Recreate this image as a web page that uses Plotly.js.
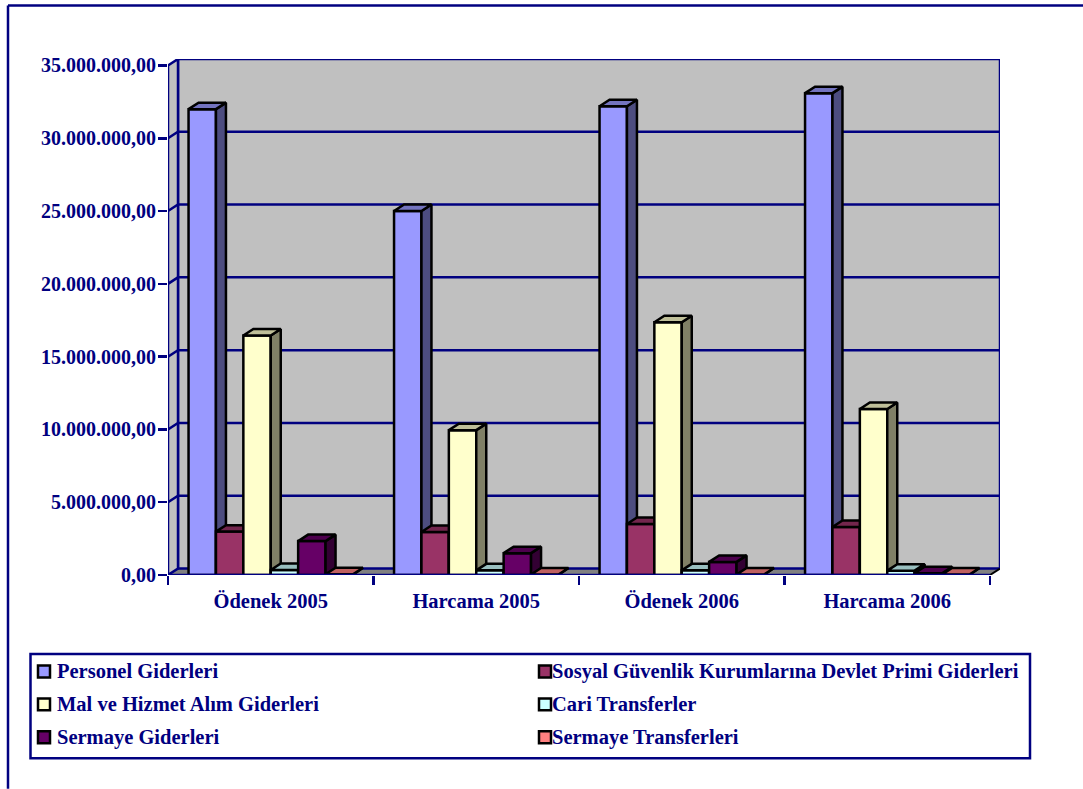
<!DOCTYPE html>
<html>
<head>
<meta charset="utf-8">
<script src="https://cdn.plot.ly/plotly-3.0.1.min.js"></script>
<style>html,body{margin:0;padding:0;background:#fff;overflow:hidden}</style>
</head>
<body>
<div id="chart" style="width:1083px;height:789px"></div>
<script>
const categories = ["Ödenek 2005", "Harcama 2005", "Ödenek 2006", "Harcama 2006"];
const seriesNames = ["Personel Giderleri", "Sosyal Güvenlik Kurumlarına Devlet Primi Giderleri", "Mal ve Hizmet Alım Giderleri", "Cari Transferler", "Sermaye Giderleri", "Sermaye Transferleri"];
const personel = [32000000, 25000000, 32200000, 33100000];
const sosyal = [2980000, 2950000, 3500000, 3300000];
const mal = [16450000, 9950000, 17360000, 11400000];
const cari = [340000, 320000, 320000, 300000];
const sermayeGid = [2330000, 1500000, 900000, 120000];
const sermayeTr = [50000, 30000, 30000, 30000];
const yTicks = [0, 5000000, 10000000, 15000000, 20000000, 25000000, 30000000, 35000000];
const yTickLabels = ["0,00", "5.000.000,00", "10.000.000,00", "15.000.000,00", "20.000.000,00", "25.000.000,00", "30.000.000,00", "35.000.000,00"];
const frontColors = ["#9999FF", "#993366", "#FFFFCC", "#CCFFFF", "#660066", "#FF8080"];
const topColors = ["#7373BF", "#73264D", "#BFBF99", "#99BFBF", "#4D004D", "#BF6060"];
const sideColors = ["#4D4D80", "#4D1A33", "#808066", "#668080", "#330033", "#804040"];

const allSeries = [personel, sosyal, mal, cari, sermayeGid, sermayeTr];
const NAVY = "#000080", FONT = "Liberation Serif";
// page geometry of the chart frame
const plotL = 168, plotR = 1000, plotT = 58.5, plotB = 575, frontR = 990, yMax = 35000000, yTopPx = 65, depthPx = 6.5;
const catPx = (frontR - plotL) / categories.length, valPx = (plotB - yTopPx) / yMax;
const dx = (plotR - frontR) / catPx, dy = depthPx / valPx;
const xRange = [-0.5, categories.length - 0.5 + dx];
const yRange = [0, (plotB - plotT) / valPx];
const barW = 0.8 / allSeries.length, startOff = -0.4;
const idx = categories.map((c, i) => i);
const px = x => (x - plotL) / (plotR - plotL), py = y => (plotB - y) / (plotB - plotT);

const poly = (xs, ys, fill, axis, lineColor, w) => ({
  type: "scatter", mode: "lines", x: xs, y: ys, xaxis: axis, yaxis: "y", fill: "toself", fillcolor: fill,
  line: {color: lineColor, width: w}, hoverinfo: "skip", showlegend: false, cliponaxis: false
});
const lineT = (xs, ys, axis, color, w) => ({
  type: "scatter", mode: "lines", x: xs, y: ys, xaxis: axis, yaxis: "y",
  line: {color: color, width: w}, hoverinfo: "skip", showlegend: false, cliponaxis: false
});

const x0 = -0.5, x1 = categories.length - 0.5;
const traces = [];
// main subplot: carries the category axis
traces.push({type: "scatter", mode: "markers", x: categories, y: categories.map(() => 0), marker: {opacity: 0, size: 1}, hoverinfo: "skip", showlegend: false});
// floor and walls
traces.push(poly([x0, x0 + dx, x1 + dx, x1, x0], [0, dy, dy, 0, 0], "#808080", "x2", "#808080", 0));
traces.push(poly([x0 + dx, x1 + dx, x1 + dx, x0 + dx, x0 + dx], [dy, dy, yMax + dy, yMax + dy, dy], "#C0C0C0", "x2", NAVY, 2.5));
traces.push(poly([x0, x0 + dx, x0 + dx, x0, x0], [0, dy, yMax + dy, yMax, 0], "#C0C0C0", "x2", NAVY, 2.5));
yTicks.slice(1, -1).forEach(v => {
  traces.push(lineT([x0, x0 + dx, x1 + dx], [v, v + dy, v + dy], "x2", NAVY, 2.5));
});
// bars, series by series so that later bars cover earlier side faces
allSeries.forEach((vals, s) => {
  const axis = "x" + (s + 3);
  const off = startOff + s * barW;
  traces.push({
    type: "bar", name: seriesNames[s], x: idx, y: vals, xaxis: axis, yaxis: "y", width: barW, offset: off,
    marker: {color: frontColors[s], line: {color: "#000", width: 2.5}}, showlegend: false, hovertemplate: "%{y}<extra>" + seriesNames[s] + "</extra>"
  });
  const sx = [], sy = [], tx = [], ty = [];
  vals.forEach((v, i) => {
    const L = i + off, R = L + barW;
    sx.push(R, R + dx, R + dx, R, R, null); sy.push(0, dy, v + dy, v, 0, null);
    tx.push(L, L + dx, R + dx, R, L, null); ty.push(v, v + dy, v + dy, v, v, null);
  });
  traces.push(poly(sx, sy, sideColors[s], axis, "#000", 2.5));
  traces.push(poly(tx, ty, topColors[s], axis, "#000", 2.5));
});
// front edge of the floor sits over the feet of the bars
traces.push(lineT([x0, x1], [0, 0], "x8", NAVY, 2.5));
traces.push(lineT([x1, x1 + dx], [0, dy], "x8", "#000", 2));

const layout = {
  width: 1083, height: 789, paper_bgcolor: "#fff", plot_bgcolor: "rgba(0,0,0,0)", showlegend: false, barmode: "overlay",
  margin: {l: plotL, r: 1083 - plotR, t: plotT, b: 789 - plotB, pad: 0},
  font: {family: FONT, color: NAVY, size: 20},
  xaxis: {type: "category", categoryorder: "array", categoryarray: categories, range: xRange, tickson: "boundaries", ticks: "outside", ticklen: 9, tickwidth: 2.5, tickcolor: NAVY,
    ticklabelstandoff: 11, showgrid: false, zeroline: false, showline: false, tickfont: {family: FONT, size: 20.5, color: NAVY, weight: "bold"}},
  yaxis: {range: yRange, tickmode: "array", tickvals: yTicks, ticktext: yTickLabels, ticks: "outside", ticklen: 9, tickwidth: 2.5, tickcolor: NAVY,
    ticklabelstandoff: -2, showgrid: false, zeroline: false, showline: false, tickfont: {family: FONT, size: 20, color: NAVY, weight: "bold"}},
  shapes: [
    {type: "line", xref: "paper", yref: "paper", x0: px(8), x1: px(8), y0: py(5), y1: py(789), line: {color: NAVY, width: 2.5}, layer: "above"},
    {type: "line", xref: "paper", yref: "paper", x0: px(8), x1: px(1083), y0: py(5), y1: py(5), line: {color: NAVY, width: 2.5}, layer: "above"},
    {type: "rect", xref: "paper", yref: "paper", x0: px(30.5), x1: px(1030), y0: py(654), y1: py(758.5), line: {color: NAVY, width: 2.5}, fillcolor: "#fff", layer: "above"}
  ],
  annotations: []
};
for (let i = 2; i <= 8; i++) {
  layout["xaxis" + i] = {type: "linear", overlaying: "x", range: xRange, visible: false, anchor: "y", fixedrange: true};
}
seriesNames.forEach((n, s) => {
  const col = s % 2, row = Math.floor(s / 2);
  const sxL = col ? 539 : 38, txL = col ? 551 : 56, yc = 671.5 + row * 33;
  layout.shapes.push({type: "rect", xref: "paper", yref: "paper", x0: px(sxL), x1: px(sxL + 12), y0: py(yc - 6), y1: py(yc + 6), fillcolor: frontColors[s], line: {color: "#000", width: 2.5}, layer: "above"});
  layout.annotations.push({xref: "paper", yref: "paper", x: px(txL), y: py(yc), xanchor: "left", yanchor: "middle", showarrow: false, text: "<b>" + n + "</b>", font: {family: FONT, size: 20.5, color: NAVY}, borderpad: 0});
});
Plotly.newPlot("chart", traces, layout, {displayModeBar: false, staticPlot: true});
</script>
</body>
</html>
